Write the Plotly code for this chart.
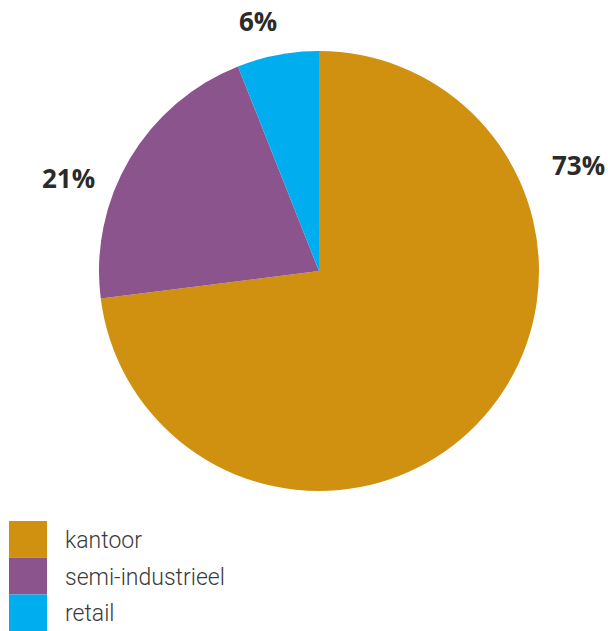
import plotly.graph_objects as go

categories = ["kantoor", "semi-industrieel", "retail"]
values = [73, 21, 6]
colors = ["#D09111", "#8B548C", "#00AEEF"]
label_texts = ["73%", "21%", "6%"]

W, H = 608, 631
label_pos = [(578, 165), (68, 178), (258, 21)]

fig = go.Figure()
fig.add_trace(go.Pie(
    labels=categories, values=values, sort=False, direction="clockwise",
    rotation=0, textinfo="none", hoverinfo="label+percent",
    marker=dict(colors=colors, line=dict(width=0)),
    domain=dict(x=[99 / W, 539 / W], y=[1 - 491 / H, 1 - 51 / H]),
    showlegend=False,
))

annotations = []
for t, (px, py) in zip(label_texts, label_pos):
    annotations.append(dict(x=px / W, y=1 - py / H, xref="paper", yref="paper",
                            text=f"<b>{t}</b>", showarrow=False,
                            font=dict(family="Open Sans", size=26, color="#2b2b2b"),
                            xanchor="center", yanchor="middle"))

shapes = []
sw_top = 521
sw_h = 36.7
for i, (c, col) in enumerate(zip(categories, colors)):
    y0 = sw_top + i * sw_h
    y1 = y0 + sw_h
    shapes.append(dict(type="rect", xref="paper", yref="paper",
                       x0=9 / W, x1=47 / W, y0=1 - y1 / H, y1=1 - y0 / H,
                       fillcolor=col, line=dict(width=0)))
    annotations.append(dict(x=63 / W, y=1 - (y0 + sw_h / 2 + 1) / H, xref="paper", yref="paper",
                            text=c, showarrow=False, xanchor="left", yanchor="middle",
                            font=dict(family="Roboto", size=23, color="#3a3a3a", weight=300)))

fig.update_layout(width=W, height=H, margin=dict(l=0, r=0, t=0, b=0),
                  paper_bgcolor="white", plot_bgcolor="white",
                  annotations=annotations, shapes=shapes)

fig.write_html("out.html")
